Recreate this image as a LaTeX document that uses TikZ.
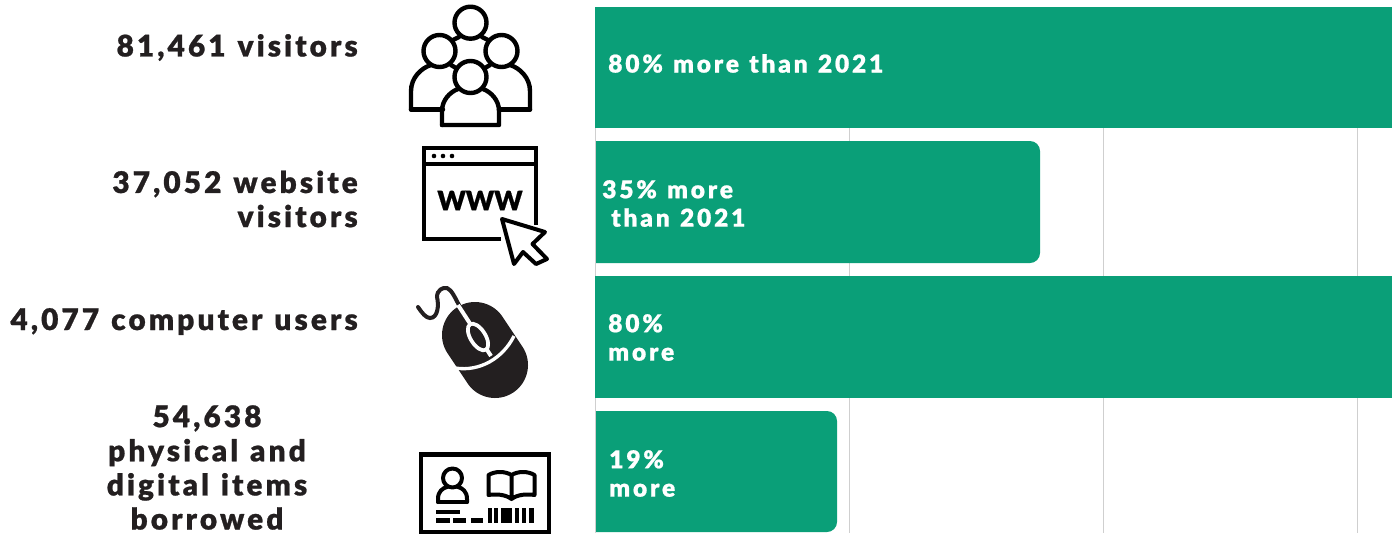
\documentclass[tikz,border=0pt]{standalone}
\usepackage{fontspec}
\setmainfont{Lato}[BoldFont={Lato Black},BoldFeatures={FakeBold=0.8,WordSpace=1.2}]
\definecolor{bargreen}{HTML}{0A9F78}
\definecolor{ink}{HTML}{231F20}
\definecolor{gridgray}{HTML}{CFCFCF}
\tikzset{
  bar/.style={fill=bargreen,draw=none},
  gridline/.style={draw=gridgray,line width=0.75pt},
  leftlabel/.style={font=\fontsize{22.3pt}{25.6pt}\selectfont\bfseries\addfontfeatures{LetterSpace=10.5},text=ink,inner sep=0pt,align=right},
  centerlabel/.style={leftlabel,align=center},
  barlabel/.style={font=\fontsize{18.4pt}{20.8pt}\selectfont\bfseries\addfontfeatures{LetterSpace=11.5},text=white,inner sep=0pt,align=left,anchor=west},
  icon/.style={draw=black,line width=3.3pt,line join=round,line cap=round},
  iconfill/.style={fill=black,draw=none}
}
\begin{document}
\begin{tikzpicture}[x=0.75pt,y=-0.75pt]
\useasboundingbox (0,0) rectangle (1392,533);
% grid
\foreach \gx in {595,849.5,1103.5,1357.5}{
  \draw[gridline] (\gx,7) -- (\gx,533);
}
% bars
\fill[bar] (595,7) rectangle (1392,128);
\fill[bar,rounded corners=7.5pt] (585,141) rectangle (1040,263);
\fill[bar] (595,276) rectangle (1392,398);
\fill[bar,rounded corners=7.5pt] (585,411) rectangle (837,532);
\fill[white] (585,135) rectangle (595,270);
\fill[white] (585,405) rectangle (595,533);
\draw[gridline] (595,135) -- (595,270);
\draw[gridline] (595,405) -- (595,533);
% bar labels
\node[barlabel] (b1) at (608,63.5) {80\% more than 2021};
\node[barlabel] (b2) at (602,203.5) {35\% more\\[0.5pt]\hspace*{6.75pt}than 2021};
\node[barlabel] (b3) at (608,337.5) {80\%\\[0.5pt]more};
\node[barlabel] (b4) at (609,473.5) {19\%\\[0.5pt]more};
% left labels
\node[leftlabel,anchor=east] (l1) at (358,47.5) {81,461 visitors};
\node[leftlabel,anchor=east] (l2) at (358,199) {37,052 website\\visitors};
\node[leftlabel,anchor=east] (l3) at (358,321.5) {4,077 computer users};
\node[centerlabel] (l4) at (207,467.5) {54,638\\physical and\\digital items\\borrowed};
% people icon
\begin{scope}[icon]
  \draw (411,109.5) -- (411,91) .. controls (411,78) and (421,68) .. (431,65);
  \draw (411,109.5) -- (443,109.5);
  \draw (530,109.5) -- (530,91) .. controls (530,78) and (520,68) .. (510,65);
  \draw (530,109.5) -- (499,109.5);
  \draw (442,125) -- (442,111) .. controls (442,100) and (450,92) .. (458,89);
  \draw (442,125) -- (499,125) -- (499,111) .. controls (499,100) and (491,92) .. (483,89);
  \draw (453,40) -- (459,37);
  \draw (488,40) -- (482,37);
  \draw (451,65) -- (456,68);
  \draw (490,65) -- (485,68);
  \draw (470.5,22.7) circle[radius=16];
  \draw (439.5,51) circle[radius=16];
  \draw (501.5,51) circle[radius=16];
  \draw (470.5,77) circle[radius=16];
\end{scope}
% browser icon
\begin{scope}[icon,line width=3pt,line cap=butt,line join=miter]
  \draw (501,239) -- (424,239) -- (424,148) -- (536,148) -- (536,225);
  \draw (424,163.5) -- (536,163.5);
  \draw[line join=round] (502,219) -- (545,232) -- (532.5,244) -- (547,259) -- (536,264) -- (523,252) -- (514,264) -- cycle;
\end{scope}
\fill[black] (434,156) circle[radius=2.3] (443,156) circle[radius=2.3] (452,156) circle[radius=2.3];
\node[font=\fontsize{20pt}{20pt}\selectfont\bfseries,inner sep=0pt,text=black] (www) at (480,200.5) {WWW};
% mouse icon
\draw[draw=ink,line width=49.5pt,line cap=round] (475,335) -- (495,365);
\draw[draw=ink,line width=3pt,line cap=round] (418,307) .. controls (422,313) and (426,318) .. (430,318) .. controls (438,318) and (439,305) .. (437,297) .. controls (437,290) and (443,287) .. (447,288) .. controls (452,290) and (455,298) .. (459,305);
\draw[white,line width=3pt] (458,305) -- (491,356);
\draw[white,line width=2.5pt] (455,368) .. controls (480,372) and (503,358) .. (514,336);
\draw[fill=ink,draw=white,line width=2.8pt,rotate around={32:(478,337)}] (478,337) ellipse[x radius=7.5,y radius=15];
% library card icon
\draw[icon,line cap=butt,line join=miter,line width=3.6pt] (421,454.5) rectangle (549,532);
\begin{scope}[icon,line width=3pt]
  \draw (452.5,478) circle[radius=9.5];
  \draw (438,502) -- (438,499) .. controls (438,491) and (443,488) .. (447,487);
  \draw (467,502) -- (467,499) .. controls (467,491) and (462,488) .. (458,487);
  \draw (438,502) -- (467,502);
  \draw (511.5,475) .. controls (505,471) and (495,471) .. (488.5,475) -- (488.5,495) .. controls (495,494) and (505,494) .. (511.5,499) .. controls (518,494) and (528,494) .. (534.5,495) -- (534.5,475) .. controls (528,471) and (518,471) .. (511.5,475) -- (511.5,499);
\end{scope}
\begin{scope}[iconfill]
  \fill (436,510) rectangle (460,514);
  \fill (436,518) rectangle (450,522.5);
  \fill (453,518) rectangle (466,522.5);
  \fill (471,518) rectangle (483,522.5);
  \foreach \xa/\xb in {488/492,494/498,501/512,515/519,522/526,529/534}{
    \fill (\xa,508) rectangle (\xb,522.5);
  }
\end{scope}
\end{tikzpicture}
\end{document}
